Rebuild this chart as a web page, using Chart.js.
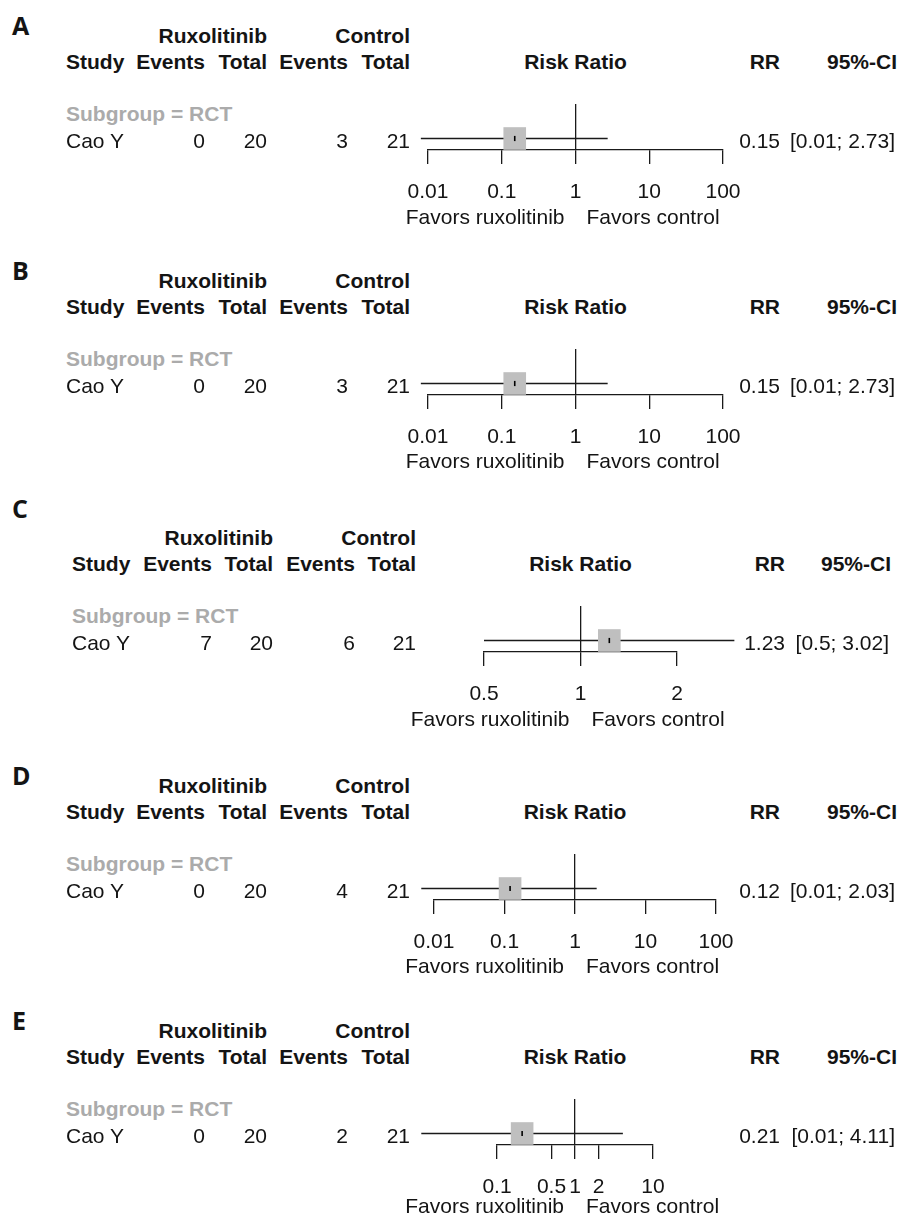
<!DOCTYPE html>
<html>
<head>
<meta charset="utf-8">
<script src="https://cdn.jsdelivr.net/npm/chart.js@4.4.1/dist/chart.umd.min.js"></script>
<style>
  body { margin: 0; background: #fff; }
  #page { position: relative; width: 899px; height: 1223px; overflow: hidden;
          font-family: 'Liberation Sans', Arial, sans-serif; color: #141414; }
  .t { position: absolute; white-space: nowrap; font-size: 21px; line-height: 21px; }
  .b { font-weight: bold; }
  .sub { font-weight: bold; color: #ababab; }
  .letter { font-family: 'Open Sans', sans-serif; font-weight: bold; font-size: 25px; line-height: 25px; }
  canvas { position: absolute; }
</style>
</head>
<body>
<div id="page"></div>
<script>
/* Data for the five forest plots (A-E) */
let panelLetters = ['A', 'B', 'C', 'D', 'E']
let studyNames = ['Cao Y', 'Cao Y', 'Cao Y', 'Cao Y', 'Cao Y']
let ruxEvents = [0, 0, 7, 0, 0]
let ruxTotal = [20, 20, 20, 20, 20]
let controlEvents = [3, 3, 6, 4, 2]
let controlTotal = [21, 21, 21, 21, 21]
let riskRatio = [0.15, 0.15, 1.23, 0.12, 0.21]
// lower ends as drawn (the printed values round to 0.01 / 0.5)
let ciLower = [0.008, 0.008, 0.5, 0.0066, 0.0107]
let ciUpper = [2.73, 2.73, 3.02, 2.03, 4.11]
let rrLabels = ['0.15', '0.15', '1.23', '0.12', '0.21']
let ciLabels = ['[0.01; 2.73]', '[0.01; 2.73]', '[0.5; 3.02]', '[0.01; 2.03]', '[0.01; 4.11]']
let axisTicks = [
    [0.01, 0.1, 1, 10, 100],
    [0.01, 0.1, 1, 10, 100],
    [0.5, 1, 2],
    [0.01, 0.1, 1, 10, 100],
    [0.1, 0.5, 1, 2, 10]
]

/* Layout of each panel, in page pixels */
let layout = [
    { top: 43,   letterY: 35,   cols: [66, 205, 267, 348, 410], rr: 780, ci: 895, axis: [428, 723], favors: 181 },
    { top: 288,  letterY: 280,  cols: [66, 205, 267, 348, 410], rr: 780, ci: 895, axis: [428, 723], favors: 180 },
    { top: 545,  letterY: 518,  cols: [72, 212, 273, 355, 416], rr: 785, ci: 889, axis: [484, 677], favors: 181 },
    { top: 793,  letterY: 785,  cols: [66, 205, 267, 348, 410], rr: 780, ci: 895, axis: [434, 716], favors: 180 },
    { top: 1038, letterY: 1030, cols: [66, 205, 267, 348, 410], rr: 780, ci: 895, axis: [497, 653], favors: 175 }
]

let page = document.querySelector('#page')
let canvasLeft = 340
let canvasWidth = 440

Chart.defaults.font.family = "'Liberation Sans', Arial, sans-serif"
Chart.defaults.color = '#141414'

function addText(str, x, baseline, align, cls, ascent) {
    let el = document.createElement('div')
    el.className = 't ' + (cls || '')
    el.textContent = str
    el.style.top = (baseline - (ascent || 17.8)) + 'px'
    if (align == 'left') {
        el.style.left = x + 'px'
    } else if (align == 'right') {
        el.style.right = (899 - x) + 'px'
    } else {
        el.style.left = x + 'px'
        el.style.transform = 'translateX(-50%)'
    }
    page.appendChild(el)
}

function drawPanel(i) {
    let L = layout[i]
    let h = L.top
    let c = L.cols

    // table text
    addText(panelLetters[i], 12, L.letterY, 'left', 'letter', 22.2)
    addText('Ruxolitinib', c[2], h, 'right', 'b')
    addText('Control', c[4], h, 'right', 'b')
    let h2 = h + 25.5
    addText('Study', c[0], h2, 'left', 'b')
    addText('Events', c[1], h2, 'right', 'b')
    addText('Total', c[2], h2, 'right', 'b')
    addText('Events', c[3], h2, 'right', 'b')
    addText('Total', c[4], h2, 'right', 'b')
    addText('RR', L.rr, h2, 'right', 'b')
    addText('95%-CI', L.ci + 2, h2, 'right', 'b')
    addText('Subgroup = RCT', c[0], h + 78, 'left', 'sub')
    let rowY = h + 104.5
    addText(studyNames[i], c[0], rowY, 'left')
    addText(String(ruxEvents[i]), c[1], rowY, 'right')
    addText(String(ruxTotal[i]), c[2], rowY, 'right')
    addText(String(controlEvents[i]), c[3], rowY, 'right')
    addText(String(controlTotal[i]), c[4], rowY, 'right')
    addText(rrLabels[i], L.rr, rowY, 'right')
    addText(ciLabels[i], L.ci, rowY, 'right')

    // forest plot canvas
    let vTop = h + 55
    let ciY = h + 94
    let axisY = h + 107
    let canvasTop = vTop - 10
    let canvasHeight = 125
    let canvas = document.createElement('canvas')
    canvas.width = canvasWidth
    canvas.height = canvasHeight
    canvas.style.left = canvasLeft + 'px'
    canvas.style.top = canvasTop + 'px'
    page.insertBefore(canvas, page.firstChild)

    let yMax = axisY - vTop
    let yRow = axisY - ciY
    let ticks = axisTicks[i]

    let chart = new Chart(canvas.getContext('2d'), {
        type: 'scatter',
        data: {
            datasets: [
                {
                    // point estimate tick
                    data: [{ x: riskRatio[i], y: yRow }],
                    pointStyle: 'line',
                    rotation: 90,
                    pointRadius: 2.6,
                    borderColor: '#000',
                    borderWidth: 1.6,
                    clip: false
                },
                {
                    // weight square
                    data: [{ x: riskRatio[i], y: yRow }],
                    pointStyle: 'rect',
                    pointRadius: 16,
                    backgroundColor: '#bfbfbf',
                    borderWidth: 0,
                    clip: false
                },
                {
                    // confidence interval
                    data: [{ x: ciLower[i], y: yRow }, { x: ciUpper[i], y: yRow }],
                    showLine: true,
                    pointRadius: 0,
                    borderColor: '#1a1a1a',
                    borderWidth: 1.3,
                    clip: false
                }
            ]
        },
        options: {
            responsive: false,
            animation: false,
            events: [],
            layout: {
                padding: { left: L.axis[0] - canvasLeft, right: canvasLeft + canvasWidth - L.axis[1], top: 10, bottom: 0 }
            },
            plugins: { legend: { display: false }, tooltip: { enabled: false } },
            scales: {
                x: {
                    type: 'logarithmic',
                    min: ticks[0],
                    max: ticks[ticks.length - 1],
                    afterBuildTicks: function(scale) {
                        scale.ticks = ticks.map(v => ({ value: v }))
                    },
                    afterFit: function(scale) {
                        scale.height = canvasHeight - (axisY - canvasTop)
                    },
                    border: { display: true, color: '#1a1a1a', width: 1.3 },
                    grid: {
                        drawOnChartArea: true,
                        drawTicks: true,
                        tickLength: 14,
                        lineWidth: 1.3,
                        color: ctx => (ctx.tick && ctx.tick.value == 1) ? '#1a1a1a' : 'rgba(0,0,0,0)',
                        tickColor: '#1a1a1a'
                    },
                    ticks: {
                        autoSkip: false,
                        maxRotation: 0,
                        minRotation: 0,
                        padding: 16,
                        color: '#141414',
                        font: { size: 21 },
                        callback: v => String(v)
                    }
                },
                y: { type: 'linear', display: false, min: 0, max: yMax }
            }
        }
    })

    // labels placed relative to the reference line at RR = 1
    let oneX = canvasLeft + chart.scales.x.getPixelForValue(1)
    addText('Risk Ratio', oneX, h2, 'center', 'b')
    addText('Favors ruxolitinib', oneX - 11, h + L.favors, 'right')
    addText('Favors control', oneX + 11, h + L.favors, 'left')
}

for (let i = 0; i < panelLetters.length; i++) {
    drawPanel(i)
}
</script>
</body>
</html>
